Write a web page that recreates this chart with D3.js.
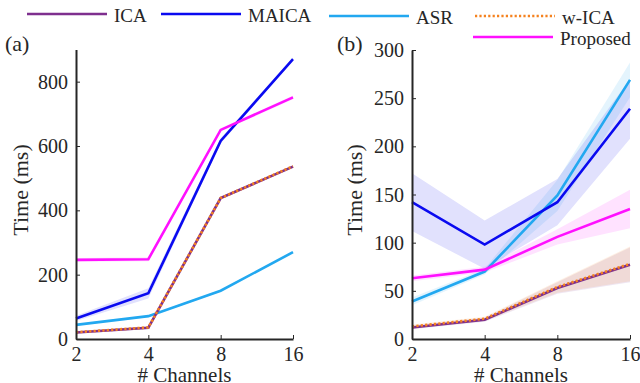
<!DOCTYPE html>
<html>
<head>
<meta charset="utf-8">
<script src="https://cdn.jsdelivr.net/npm/d3@7"></script>
<style>
  body { margin: 0; background: #fff; }
  svg text { font-family: "Liberation Serif", "Times New Roman", Times, serif !important; fill: #262626; }
</style>
</head>
<body>
<script>
// channel counts on the x axis
var channels = [2, 4, 8, 16];

// panel (a) mean times (ms) and half-widths of shaded bands
var aICA      = [20, 35, 438, 536];
var aMAICA    = [64, 142, 616, 870];
var aASR      = [44, 71, 150, 270];
var aWICA     = [21, 36, 438, 537];
var aProposed = [246, 248, 650, 751];
var aICAsd      = [4, 4, 4, 4];
var aMAICAsd    = [8, 16, 8, 5];
var aASRsd      = [3, 3, 3, 3];
var aWICAsd     = [4, 4, 4, 4];
var aProposedsd = [6, 6, 5, 6];

// panel (b)
var bICA      = [12, 20, 53, 77];
var bMAICA    = [142, 98, 142, 239];
var bASR      = [39, 70, 149, 269];
var bWICA     = [13, 21, 54, 78];
var bProposed = [63, 72, 106, 135];
var bICAsd      = [2, 2, 6, 18];
var bMAICAsd    = [30, 25, 24, 31];
var bASRsd      = [4, 3, 16, 18];
var bWICAsd     = [2, 2, 6, 18];
var bProposedsd = [3, 3, 8, 20];

var aTicks = [0, 200, 400, 600, 800];
var bTicks = [0, 50, 100, 150, 200, 250, 300];

var colors = {
  ICA: "#7e2f8e",
  MAICA: "#0a0af0",
  ASR: "#22a8f0",
  wICA: "#f5821f",
  Proposed: "#ff10ff"
};

var svg = d3.select("body").append("svg")
    .attr("width", 640)
    .attr("height", 383);

function panel(opts) {
  var x = d3.scaleLog().base(2).domain([2, 16]).range([opts.x0, opts.x1]);
  var y = d3.scaleLinear().domain([0, opts.ymax]).range([339, opts.ytop]);
  var g = svg.append("g");

  var series = opts.series;

  // shaded bands
  series.forEach(function(s) {
    var area = d3.area()
      .x(function(d, i) { return x(channels[i]); })
      .y0(function(d, i) { return y(d - s.sd[i]); })
      .y1(function(d, i) { return y(d + s.sd[i]); });
    g.append("path")
      .attr("d", area(s.values))
      .attr("fill", s.color)
      .attr("fill-opacity", 0.12)
      .attr("stroke", "none");
  });

  // lines
  series.forEach(function(s) {
    var line = d3.line()
      .x(function(d, i) { return x(channels[i]); })
      .y(function(d) { return y(d); });
    g.append("path")
      .attr("d", line(s.values))
      .attr("fill", "none")
      .attr("stroke", s.color)
      .attr("stroke-width", 2.6)
      .attr("stroke-dasharray", s.dash ? "2.2,2.2" : null);
  });

  // axes
  var xAxis = d3.axisBottom(x).tickValues(channels).tickFormat(d3.format("d"))
    .tickSizeInner(-4).tickSizeOuter(0).tickPadding(10);
  var gx = g.append("g").attr("transform", "translate(0,339)").call(xAxis);
  var yAxis = d3.axisLeft(y).tickValues(opts.ticks)
    .tickSizeInner(-4).tickSizeOuter(0).tickPadding(8);
  var gy = g.append("g").attr("transform", "translate(" + opts.x0 + ",0)").call(yAxis);

  [gx, gy].forEach(function(ax) {
    ax.attr("font-family", null).attr("font-size", null);
    ax.select(".domain").attr("stroke", "#262626").attr("stroke-width", 2);
    ax.selectAll(".tick line").attr("stroke", "#262626").attr("stroke-width", 1);
    ax.selectAll(".tick text")
      .style("font-size", "20px")
      .attr("fill", "#262626");
  });
  gx.selectAll(".tick text").attr("dy", "0.62em");
  gy.selectAll(".tick text").attr("dy", "0.33em");

  g.append("text")
    .attr("transform", "translate(" + opts.ylabX + ",190) rotate(-90)")
    .attr("text-anchor", "middle")
    .style("font-size", "22px")
    .text("Time (ms)");

  g.append("text")
    .attr("x", (opts.x0 + opts.x1) / 2)
    .attr("y", 382)
    .attr("text-anchor", "middle")
    .style("font-size", "21px")
    .text("# Channels");

  g.append("text")
    .attr("x", opts.tagX)
    .attr("y", 51)
    .style("font-size", "22px")
    .text(opts.tag);
}

panel({
  x0: 76, x1: 293, ytop: 49.5, ymax: 900, ticks: aTicks,
  ylabX: 28, tagX: 5, tag: "(a)",
  series: [
    {values: aASR, sd: aASRsd, color: colors.ASR},
    {values: aMAICA, sd: aMAICAsd, color: colors.MAICA},
    {values: aProposed, sd: aProposedsd, color: colors.Proposed},
    {values: aICA, sd: aICAsd, color: colors.ICA},
    {values: aWICA, sd: aWICAsd, color: colors.wICA, dash: true}
  ]
});

panel({
  x0: 412, x1: 630, ytop: 50, ymax: 300, ticks: bTicks,
  ylabX: 362, tagX: 337, tag: "(b)",
  series: [
    {values: bASR, sd: bASRsd, color: colors.ASR},
    {values: bMAICA, sd: bMAICAsd, color: colors.MAICA},
    {values: bProposed, sd: bProposedsd, color: colors.Proposed},
    {values: bICA, sd: bICAsd, color: colors.ICA},
    {values: bWICA, sd: bWICAsd, color: colors.wICA, dash: true}
  ]
});

// legend
var legendItems = [
  {name: "ICA", color: colors.ICA, x: 27, y: 14},
  {name: "MAICA", color: colors.MAICA, x: 161, y: 14},
  {name: "ASR", color: colors.ASR, x: 329, y: 16},
  {name: "w-ICA", color: colors.wICA, x: 475, y: 16, dash: true},
  {name: "Proposed", color: colors.Proposed, x: 473, y: 37}
];
var legend = svg.append("g");
legendItems.forEach(function(it) {
  legend.append("line")
    .attr("x1", it.x).attr("x2", it.x + 80)
    .attr("y1", it.y).attr("y2", it.y)
    .attr("stroke", it.color)
    .attr("stroke-width", 2.6)
    .attr("stroke-dasharray", it.dash ? "2.2,2.2" : null);
  legend.append("text")
    .attr("x", it.x + 87)
    .attr("y", it.y + 8)
    .style("font-size", "19px")
    .text(it.name);
});
</script>
</body>
</html>
